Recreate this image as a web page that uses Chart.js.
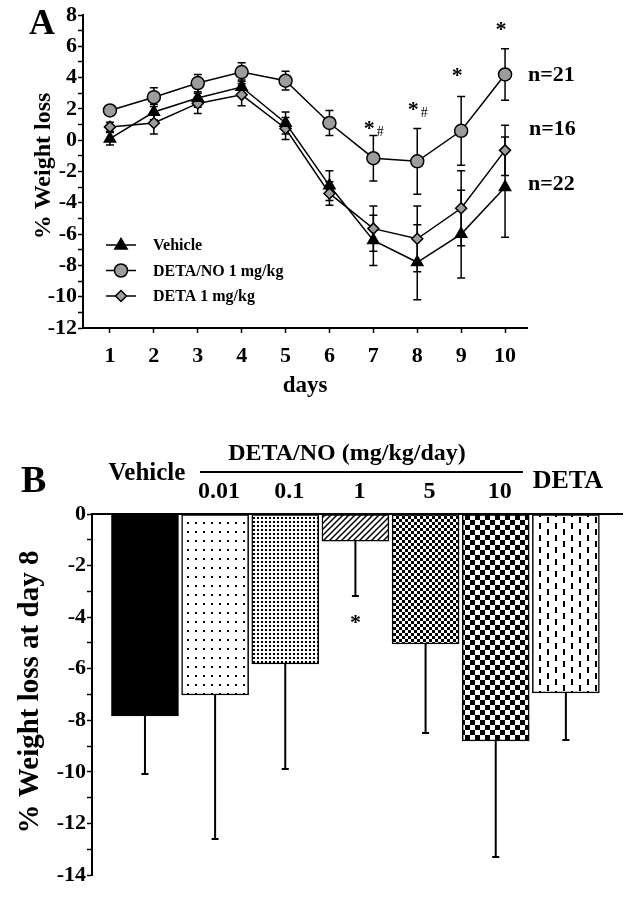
<!DOCTYPE html>
<html>
<head>
<meta charset="utf-8">
<script src="https://cdn.jsdelivr.net/npm/chart.js@4.4.1/dist/chart.umd.min.js"></script>
<style>
    body { margin: 0; background: #fff; }
    canvas { position: absolute; left: 0; }
    #weightChart { top: 0; }
    #dayEightChart { top: 420px; }
</style>
</head>
<body>
<canvas id="weightChart" width="639" height="400"></canvas>
<canvas id="dayEightChart" width="639" height="480"></canvas>
<script>
// panel A: % weight loss over days
const days = [1, 2, 3, 4, 5, 6, 7, 8, 9, 10];
const vehicle = [0.1, 1.8, 2.7, 3.4, 1.1, -2.9, -6.4, -7.8, -6.0, -3.0];
const vehicleErr = [0.4, 0.5, 0.6, 0.45, 0.7, 0.95, 1.6, 2.4, 2.8, 3.2];
const detaNo = [1.9, 2.75, 3.65, 4.35, 3.8, 1.1, -1.15, -1.35, 0.6, 4.2];
const detaNoErr = [0.3, 0.6, 0.55, 0.6, 0.6, 0.8, 1.45, 2.1, 2.2, 1.65];
const deta = [0.85, 1.1, 2.35, 2.9, 0.75, -3.4, -5.65, -6.3, -4.35, -0.65];
const detaErr = [0.3, 0.7, 0.65, 0.7, 0.7, 0.75, 1.45, 2.1, 2.4, 1.6];
const groupNames = ["Vehicle", "DETA/NO 1 mg/kg", "DETA 1 mg/kg"];
const groupN = ["n=22", "n=21", "n=16"];

// panel B: % weight loss at day 8
const doseGroups = ["Vehicle", "0.01", "0.1", "1", "5", "10", "DETA"];
const day8Loss = [-7.83, -7.02, -5.81, -1.05, -5.04, -8.8, -6.94];
const day8Err = [2.25, 5.58, 4.08, 2.13, 3.45, 4.5, 1.82];

const SERIF = '"Liberation Serif", "Times New Roman", serif';
const bold = size => "bold " + size + "px " + SERIF;

// error bars, drawn under the markers
const errorBars = {
    id: "errorBars",
    beforeDatasetsDraw(chart) {
        const ctx = chart.ctx;
        const yScale = chart.scales.y;
        ctx.save();
        ctx.strokeStyle = "#000";
        ctx.lineWidth = chart.options.plugins.errorBars.lineWidth;
        const cap = chart.options.plugins.errorBars.cap;
        chart.data.datasets.forEach((ds, di) => {
            if (!ds.errors) return;
            const meta = chart.getDatasetMeta(di);
            meta.data.forEach((el, i) => {
                const v = ds.data[i].y;
                const e = ds.errors[i];
                const yLow = yScale.getPixelForValue(v - e);
                const yHigh = ds.oneSided ? yScale.getPixelForValue(v) : yScale.getPixelForValue(v + e);
                ctx.beginPath();
                ctx.moveTo(el.x, yHigh);
                ctx.lineTo(el.x, yLow);
                ctx.moveTo(el.x - cap, yLow);
                ctx.lineTo(el.x + cap, yLow);
                if (!ds.oneSided) {
                    ctx.moveTo(el.x - cap, yHigh);
                    ctx.lineTo(el.x + cap, yHigh);
                }
                ctx.stroke();
            });
        });
        ctx.restore();
    }
};

function drawMarker(ctx, style, x, y, r) {
    ctx.beginPath();
    if (style === "triangle") {
        ctx.moveTo(x, y - r);
        ctx.lineTo(x + r * 0.95, y + r * 0.6);
        ctx.lineTo(x - r * 0.95, y + r * 0.6);
        ctx.closePath();
    } else if (style === "circle") {
        ctx.arc(x, y, r, 0, Math.PI * 2);
    } else {
        ctx.moveTo(x, y - r);
        ctx.lineTo(x + r, y);
        ctx.lineTo(x, y + r);
        ctx.lineTo(x - r, y);
        ctx.closePath();
    }
    ctx.fill();
    ctx.stroke();
}

const panelAText = {
    id: "panelAText",
    afterDraw(chart) {
        const ctx = chart.ctx;
        const x = chart.scales.x;
        const y = chart.scales.y;
        ctx.save();
        ctx.fillStyle = "#000";
        ctx.textBaseline = "alphabetic";

        ctx.font = bold(36);
        ctx.textAlign = "left";
        ctx.fillText("A", 29, 34);

        ctx.font = bold(23);
        ctx.textAlign = "center";
        ctx.fillText("days", 305, 392);

        ctx.font = bold(24);
        ctx.save();
        ctx.translate(50, 166);
        ctx.rotate(-Math.PI / 2);
        ctx.fillText("% Weight loss", 0, 0);
        ctx.restore();

        // legend
        chart.data.datasets.forEach((ds, i) => {
            const ly = 245 + i * 25.5;
            ctx.strokeStyle = "#000";
            ctx.lineWidth = 1.5;
            ctx.beginPath();
            ctx.moveTo(106, ly);
            ctx.lineTo(136, ly);
            ctx.stroke();
            ctx.fillStyle = ds.pointBackgroundColor;
            drawMarker(ctx, ds.pointStyle, 121, ly, ds.pointRadius);
            ctx.fillStyle = "#000";
            ctx.font = bold(16);
            ctx.textAlign = "left";
            ctx.fillText(ds.label, 153, ly + 5);
        });

        // significance marks
        const marks = [
            { day: 7, y: 1.1, sub: true },
            { day: 8, y: 2.3, sub: true },
            { day: 9, y: 4.5, sub: false },
            { day: 10, y: 7.4, sub: false }
        ];
        marks.forEach(m => {
            const px = x.getPixelForValue(m.day);
            const py = y.getPixelForValue(m.y);
            ctx.font = bold(22);
            ctx.textAlign = "center";
            ctx.fillText("*", px - 4, py + 12);
            if (m.sub) {
                ctx.font = "14px " + SERIF;
                ctx.fillText("#", px + 7, py + 13);
            }
        });

        // group sizes
        ctx.font = bold(22);
        ctx.textAlign = "left";
        ctx.fillText(groupN[1], 528, 81);
        ctx.fillText(groupN[2], 529, 135);
        ctx.fillText(groupN[0], 528, 190);
        ctx.restore();
    }
};

const makeSeries = (vals, errs, label, style, fill, radius) => ({
    label: label,
    data: days.map((d, i) => ({ x: d, y: vals[i] })),
    errors: errs,
    borderColor: "#000",
    borderWidth: 1.5,
    pointStyle: style,
    pointRadius: radius,
    pointHoverRadius: radius,
    pointBackgroundColor: fill,
    pointBorderColor: "#000",
    pointBorderWidth: 1.5,
    tension: 0
});

new Chart(document.getElementById("weightChart"), {
    type: "line",
    data: {
        datasets: [
            makeSeries(vehicle, vehicleErr, groupNames[0], "triangle", "#000", 6.5),
            makeSeries(detaNo, detaNoErr, groupNames[1], "circle", "#9c9c9c", 6.5),
            makeSeries(deta, detaErr, groupNames[2], "rectRot", "#9c9c9c", 5.5)
        ]
    },
    options: {
        responsive: false,
        animation: false,
        layout: { padding: { top: 15, right: 112, left: 0, bottom: 0 } },
        plugins: {
            legend: { display: false },
            tooltip: { enabled: false },
            errorBars: { lineWidth: 1.5, cap: 4 }
        },
        scales: {
            x: {
                type: "linear",
                min: 0.386,
                max: 10.5,
                afterBuildTicks: s => { s.ticks = days.map(d => ({ value: d })); },
                afterFit: s => { s.height = 72; },
                grid: { drawOnChartArea: false, tickLength: 5, color: "#000", tickWidth: 1.5 },
                border: { color: "#000", width: 2 },
                ticks: { color: "#000", font: { family: SERIF, weight: "bold", size: 22 }, padding: 10, maxRotation: 0 }
            },
            y: {
                min: -12,
                max: 8,
                afterFit: s => { s.width = 83; },
                grid: { drawOnChartArea: false, tickLength: 5, color: "#000", tickWidth: 1.5 },
                border: { color: "#000", width: 2 },
                ticks: {
                    stepSize: 1,
                    autoSkip: false,
                    color: "#000",
                    padding: 1,
                    font: { family: SERIF, weight: "bold", size: 22 },
                    callback: v => (v % 2 === 0 ? v : "")
                }
            }
        }
    },
    plugins: [errorBars, panelAText]
});

// bar fill patterns
function makePattern(w, h, draw) {
    const c = document.createElement("canvas");
    c.width = w;
    c.height = h;
    const g = c.getContext("2d");
    g.fillStyle = "#fff";
    g.fillRect(0, 0, w, h);
    g.fillStyle = "#000";
    g.strokeStyle = "#000";
    draw(g);
    return g.createPattern(c, "repeat");
}

const fills = [
    "#000",
    makePattern(8, 9, g => g.fillRect(3, 3, 2, 2)),
    makePattern(4, 4, g => g.fillRect(1, 1, 2, 2)),
    makePattern(6, 6, g => {
        g.lineWidth = 1.5;
        g.beginPath();
        g.moveTo(-1, 7); g.lineTo(7, -1);
        g.moveTo(-1, 1); g.lineTo(1, -1);
        g.moveTo(5, 7); g.lineTo(7, 5);
        g.stroke();
    }),
    makePattern(6, 6, g => { g.fillRect(0, 0, 3, 3); g.fillRect(3, 3, 3, 3); }),
    makePattern(10, 10, g => { g.fillRect(0, 0, 5, 5); g.fillRect(5, 5, 5, 5); }),
    makePattern(16, 12, g => {
        g.fillRect(3, 1, 2, 6);
        g.fillRect(11, 7, 2, 5);
        g.fillRect(11, 0, 2, 1);
    })
];

const panelBText = {
    id: "panelBText",
    afterDraw(chart) {
        const ctx = chart.ctx;
        const x = chart.scales.x;
        const y = chart.scales.y;
        ctx.save();
        ctx.fillStyle = "#000";

        ctx.font = bold(38);
        ctx.textAlign = "left";
        ctx.fillText("B", 21, 72);

        ctx.font = bold(25);
        ctx.textAlign = "center";
        ctx.fillText(doseGroups[0], x.getPixelForValue(0) + 2, 60);
        ctx.font = bold(26);
        ctx.fillText(doseGroups[6], x.getPixelForValue(6) + 2, 68);
        ctx.font = bold(24);
        ctx.fillText("DETA/NO (mg/kg/day)", 347, 40);
        for (let i = 1; i <= 5; i++) {
            ctx.fillText(doseGroups[i], x.getPixelForValue(i) + 4, 78);
        }

        ctx.strokeStyle = "#000";
        ctx.lineWidth = 2;
        ctx.beginPath();
        ctx.moveTo(200, 52);
        ctx.lineTo(523, 52);
        ctx.stroke();

        // significance under the 1 mg/kg bar
        ctx.font = bold(22);
        ctx.fillText("*", x.getPixelForValue(3), y.getPixelForValue(-4.0) + 12);

        ctx.font = bold(29);
        ctx.save();
        ctx.translate(38, 272);
        ctx.rotate(-Math.PI / 2);
        ctx.fillText("% Weight loss at day 8", 0, 0);
        ctx.restore();
        ctx.restore();
    }
};

new Chart(document.getElementById("dayEightChart"), {
    type: "bar",
    data: {
        datasets: [{
            label: "Day 8",
            data: doseGroups.map((g, i) => ({ x: i, y: day8Loss[i] })),
            errors: day8Err,
            oneSided: true,
            backgroundColor: fills,
            borderColor: "#000",
            borderWidth: 1.5,
            borderSkipped: false,
            barThickness: 67
        }]
    },
    options: {
        responsive: false,
        animation: false,
        layout: { padding: { top: 94, right: 17, left: 0, bottom: 25 } },
        plugins: {
            legend: { display: false },
            tooltip: { enabled: false },
            errorBars: { lineWidth: 2, cap: 3.5 }
        },
        scales: {
            x: {
                type: "linear",
                position: "top",
                offset: false,
                min: -0.755,
                max: 6.8,
                afterFit: s => { s.height = 0; },
                grid: { display: false, offset: false },
                ticks: { display: false },
                border: { display: true, color: "#000", width: 2 }
            },
            y: {
                min: -14,
                max: 0,
                afterFit: s => { s.width = 92; },
                grid: { drawOnChartArea: false, tickLength: 5, color: "#000", tickWidth: 1.5 },
                border: { color: "#000", width: 2 },
                ticks: {
                    stepSize: 1,
                    autoSkip: false,
                    color: "#000",
                    padding: 1,
                    font: { family: SERIF, weight: "bold", size: 22 },
                    callback: v => (v % 2 === 0 ? v : "")
                }
            }
        }
    },
    plugins: [errorBars, panelBText]
});
</script>
</body>
</html>
